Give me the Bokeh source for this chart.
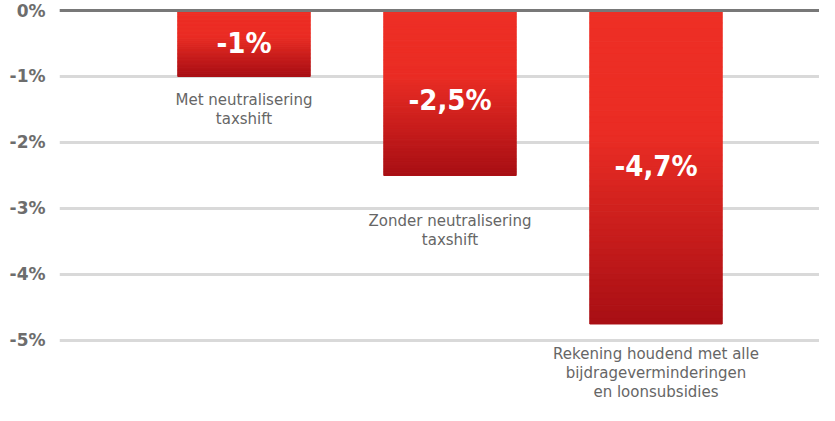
from bokeh.plotting import figure
from bokeh.models import FixedTicker, Span, ColumnDataSource
from bokeh.core.properties import value
from bokeh.embed import file_html
from bokeh.resources import INLINE

# ---- data ----
categories = [
    "Met neutralisering\ntaxshift",
    "Zonder neutralisering\ntaxshift",
    "Rekening houdend met alle\nbijdrageverminderingen\nen loonsubsidies",
]
values = [-1.0, -2.5, -4.75]
value_labels = ["-1%", "-2,5%", "-4,7%"]
tick_values = [0, -1, -2, -3, -4, -5]
tick_labels = ["0%", "-1%", "-2%", "-3%", "-4%", "-5%"]

# ---- layout / style ----
value_label_y = [-0.5, -1.35, -2.36]
category_label_top = [-1.22, -3.05, -5.07]
bar_width = 0.643
n_slices = 50
stops = [(0.0, (238, 47, 37)), (0.4, (234, 44, 36)), (1.0, (168, 15, 20))]


def grad_color(t):
    for (t0, c0), (t1, c1) in zip(stops[:-1], stops[1:]):
        if t <= t1:
            f = (t - t0) / (t1 - t0) if t1 > t0 else 0
            c = [round(a + (b - a) * f) for a, b in zip(c0, c1)]
            return "#%02x%02x%02x" % tuple(c)
    return "#%02x%02x%02x" % stops[-1][1]


xs = [i + 1 for i in range(len(values))]

p = figure(
    width=819, height=405,
    x_range=(0.1044, 3.7937), y_range=(-5.985, 0.1515),
    output_backend="svg", toolbar_location=None,
    x_axis_location=None,
    min_border_left=59, min_border_right=0, min_border_top=0, min_border_bottom=0,
)
p.outline_line_color = None
p.background_fill_color = "white"
p.xgrid.visible = False

p.yaxis.ticker = FixedTicker(ticks=tick_values)
p.yaxis.major_label_overrides = {t: l for t, l in zip(tick_values, tick_labels)}
p.yaxis.axis_line_color = None
p.yaxis.major_tick_line_color = None
p.yaxis.minor_tick_line_color = None
p.yaxis.major_tick_out = 0
p.yaxis.major_tick_in = 0
p.yaxis.minor_tick_out = 0
p.yaxis.major_label_standoff = 14
p.yaxis.major_label_text_font = "DejaVu Sans"
p.yaxis.major_label_text_font_style = "bold"
p.yaxis.major_label_text_font_size = "17px"
p.yaxis.major_label_text_color = "#6d6d6d"

p.ygrid.ticker = FixedTicker(ticks=tick_values)
p.ygrid.grid_line_color = "#d9d9d9"
p.ygrid.grid_line_width = 3

# gradient bars as thin slices
L, R, T, B, C = [], [], [], [], []
for x, v in zip(xs, values):
    for k in range(n_slices):
        t0 = k / n_slices
        t1 = (k + 1) / n_slices
        L.append(x - bar_width / 2)
        R.append(x + bar_width / 2)
        T.append(v * t0)
        B.append(v * t1)
        C.append(grad_color((t0 + t1) / 2))
src = ColumnDataSource(dict(left=L, right=R, top=T, bottom=B, color=C))
p.quad(left="left", right="right", top="top", bottom="bottom", source=src,
       fill_color="color", line_color="color", line_width=1)

zero = Span(location=0, dimension="width", line_color="#787878", line_width=3, level="overlay")
p.add_layout(zero)

p.text(x=xs, y=value_label_y, text=value_labels, text_align="center", text_baseline="middle",
       text_font=value("DejaVu Sans Condensed"), text_font_style="bold",
       text_font_size="29px", text_color="white")

p.text(x=xs, y=category_label_top, text=categories, text_align="center", text_baseline="top",
       text_font=value("DejaVu Sans"), text_font_size="15px", text_color="#666666",
       text_line_height=1.05)

open("out.html", "w").write(file_html(p, INLINE))
